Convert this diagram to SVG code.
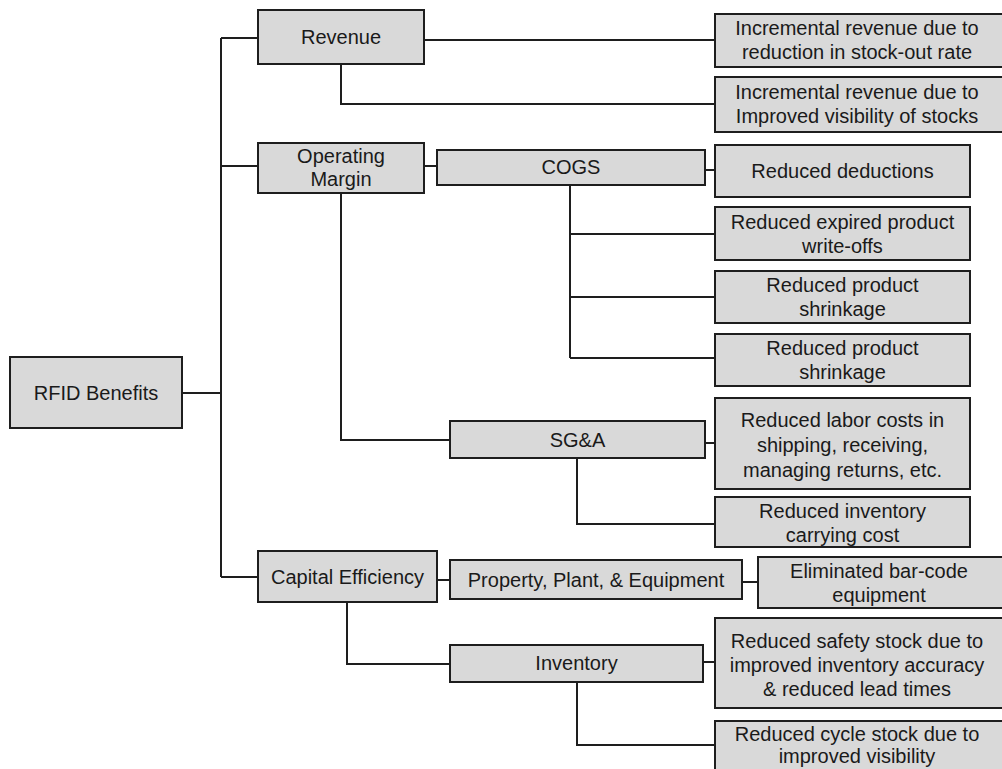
<svg xmlns="http://www.w3.org/2000/svg" width="1002" height="769" viewBox="0 0 1002 769">
<style>
.box{fill:#d9d9d9;stroke:#1e1e1e;stroke-width:2}
.t{font-family:"Liberation Sans",Arial,sans-serif;font-size:20px;fill:#1a1a1a;text-anchor:middle}
.c{fill:none;stroke:#1e1e1e;stroke-width:2}
</style>
<rect width="1002" height="769" fill="#ffffff"/>
<g id="connectors">
<path class="c" d="M221,38 V577"/>
<path class="c" d="M182,393 H221"/>
<path class="c" d="M221,38 H258"/>
<path class="c" d="M221,166 H258"/>
<path class="c" d="M221,577 H258"/>
<path class="c" d="M424,40 H715"/>
<path class="c" d="M341,64 V104 H715"/>
<path class="c" d="M424,166 H437"/>
<path class="c" d="M705,170 H715"/>
<path class="c" d="M570,185 V358"/>
<path class="c" d="M570,234 H715"/>
<path class="c" d="M570,297 H715"/>
<path class="c" d="M570,358 H715"/>
<path class="c" d="M341,193 V440 H450"/>
<path class="c" d="M705,443 H715"/>
<path class="c" d="M577,458 V524 H715"/>
<path class="c" d="M437,580 H450"/>
<path class="c" d="M742,582 H758"/>
<path class="c" d="M347,602 V664 H450"/>
<path class="c" d="M703,662 H715"/>
<path class="c" d="M577,682 V745 H715"/>
</g>
<g id="rfid-benefits"><rect class="box" x="10" y="357" width="172" height="71"/><text class="t" x="96" y="400">RFID Benefits</text></g>
<g id="revenue"><rect class="box" x="258" y="10" width="166" height="54"/><text class="t" x="341" y="44">Revenue</text></g>
<g id="operating-margin"><rect class="box" x="258" y="143" width="166" height="50"/><text class="t" x="341" y="163">Operating</text><text class="t" x="341" y="186">Margin</text></g>
<g id="capital-efficiency"><rect class="box" x="258" y="551" width="179" height="51"/><text class="t" x="347.5" y="584">Capital Efficiency</text></g>
<g id="cogs"><rect class="box" x="437" y="150" width="268" height="35"/><text class="t" x="571" y="174">COGS</text></g>
<g id="sga"><rect class="box" x="450" y="421" width="255" height="37"/><text class="t" x="577.5" y="447">SG&amp;A</text></g>
<g id="ppe"><rect class="box" x="450" y="560" width="292" height="39"/><text class="t" x="596" y="587">Property, Plant, &amp; Equipment</text></g>
<g id="inventory"><rect class="box" x="450" y="645" width="253" height="37"/><text class="t" x="576.5" y="670">Inventory</text></g>
<g id="rev-stockout"><rect class="box" x="715" y="14" width="292" height="53"/><text class="t" x="857" y="35">Incremental revenue due to</text><text class="t" x="857" y="59">reduction in stock-out rate</text></g>
<g id="rev-visibility"><rect class="box" x="715" y="77" width="292" height="55"/><text class="t" x="857" y="99">Incremental revenue due to</text><text class="t" x="857" y="123">Improved visibility of stocks</text></g>
<g id="reduced-deductions"><rect class="box" x="715" y="145" width="255" height="52"/><text class="t" x="842.5" y="178">Reduced deductions</text></g>
<g id="expired-writeoffs"><rect class="box" x="715" y="207" width="255" height="53"/><text class="t" x="842.5" y="229">Reduced expired product</text><text class="t" x="842.5" y="253">write-offs</text></g>
<g id="shrinkage-1"><rect class="box" x="715" y="271" width="255" height="52"/><text class="t" x="842.5" y="292">Reduced product</text><text class="t" x="842.5" y="316">shrinkage</text></g>
<g id="shrinkage-2"><rect class="box" x="715" y="334" width="255" height="52"/><text class="t" x="842.5" y="355">Reduced product</text><text class="t" x="842.5" y="379">shrinkage</text></g>
<g id="labor-costs"><rect class="box" x="715" y="398" width="255" height="91"/><text class="t" x="842.5" y="427">Reduced labor costs in</text><text class="t" x="842.5" y="452">shipping, receiving,</text><text class="t" x="842.5" y="477">managing returns, etc.</text></g>
<g id="carrying-cost"><rect class="box" x="715" y="497" width="255" height="50"/><text class="t" x="842.5" y="518">Reduced inventory</text><text class="t" x="842.5" y="542">carrying cost</text></g>
<g id="barcode"><rect class="box" x="758" y="557" width="250" height="51"/><text class="t" x="879" y="578">Eliminated bar-code</text><text class="t" x="879" y="602">equipment</text></g>
<g id="safety-stock"><rect class="box" x="715" y="618" width="292" height="90"/><text class="t" x="857" y="648">Reduced safety stock due to</text><text class="t" x="857" y="672">improved inventory accuracy</text><text class="t" x="857" y="696">&amp; reduced lead times</text></g>
<g id="cycle-stock"><rect class="box" x="715" y="721" width="292" height="60"/><text class="t" x="857" y="741">Reduced cycle stock due to</text><text class="t" x="857" y="763">improved visibility</text></g>
</svg>
